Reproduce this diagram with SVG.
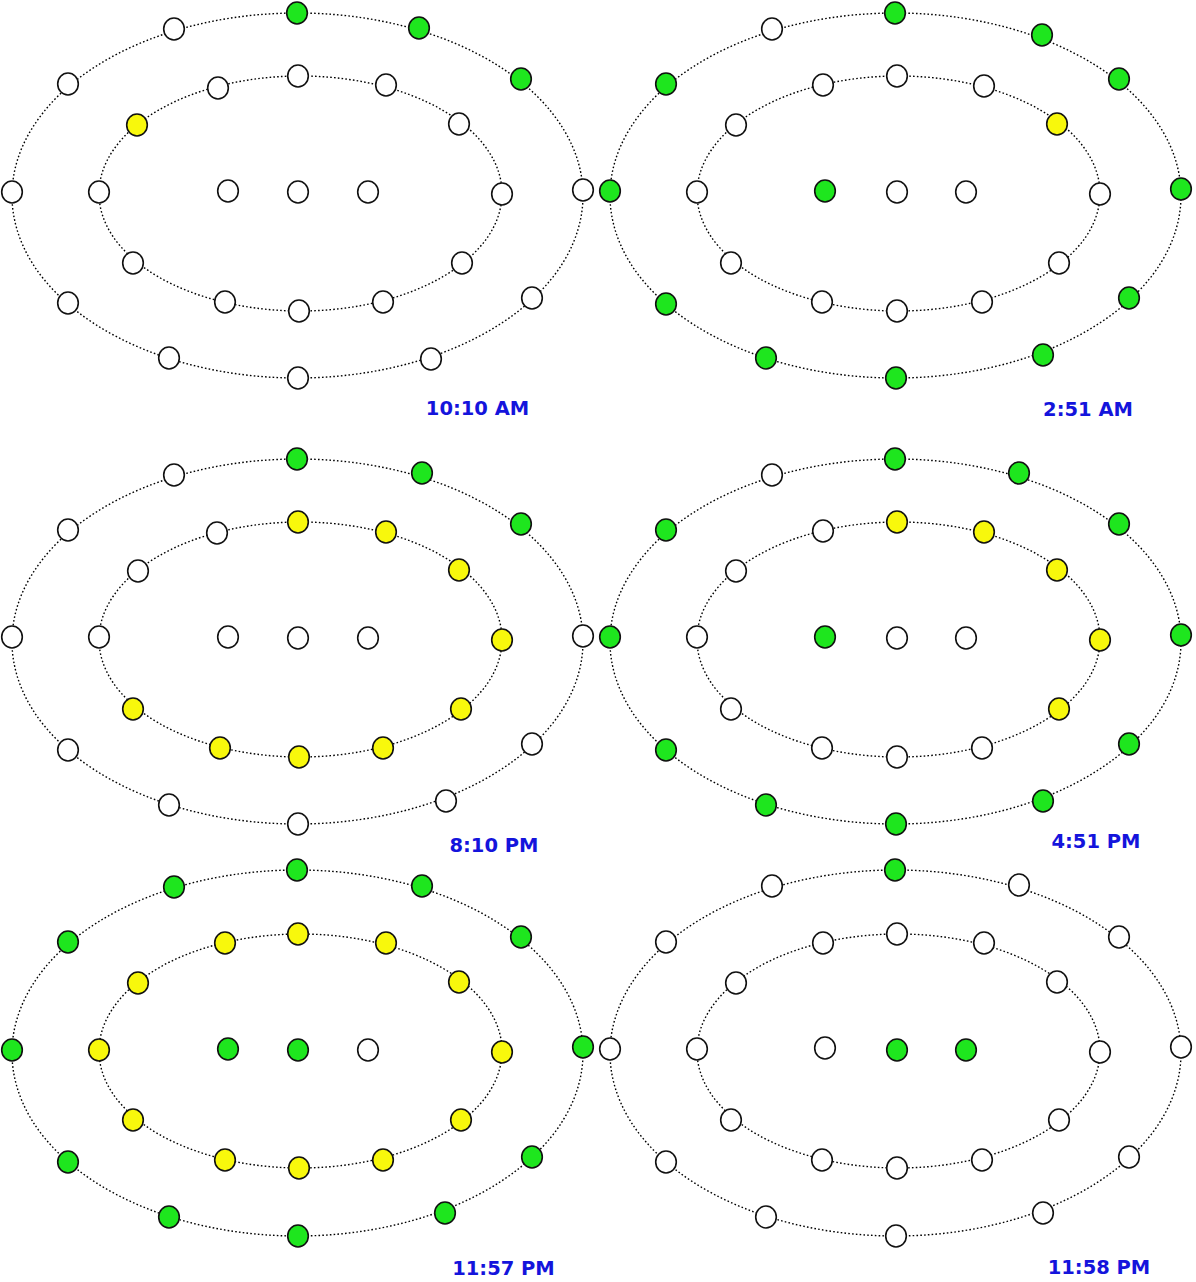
<svg xmlns="http://www.w3.org/2000/svg" width="1196" height="1282" viewBox="0 0 1196 1282">
<style>
.ring{fill:none;stroke:#000;stroke-width:1.4;stroke-dasharray:1.6 2.2}
.n ellipse{stroke:#111;stroke-width:1.6}
.w{fill:#fff}
.g{fill:#1ee61e}
.y{fill:#f8f80c}
.lbl{font-family:"DejaVu Sans",sans-serif;font-weight:bold;font-size:19.5px;fill:#1414dc;text-anchor:middle}
</style>
<defs>
<ellipse id="dot" rx="10.3" ry="11"/>
</defs>
<rect width="1196" height="1282" fill="#fff"/>
<g id="connectors">
<ellipse class="ring" cx="297.5" cy="195.5" rx="285.5" ry="182.5"/>
<ellipse class="ring" cx="300.5" cy="193.5" rx="201.5" ry="117.5"/>
<ellipse class="ring" cx="895.5" cy="195.5" rx="285.5" ry="182.5"/>
<ellipse class="ring" cx="898.5" cy="193.5" rx="201.5" ry="117.5"/>
<ellipse class="ring" cx="297.5" cy="641.5" rx="285.5" ry="182.5"/>
<ellipse class="ring" cx="300.5" cy="639.5" rx="201.5" ry="117.5"/>
<ellipse class="ring" cx="895.5" cy="641.5" rx="285.5" ry="182.5"/>
<ellipse class="ring" cx="898.5" cy="639.5" rx="201.5" ry="117.5"/>
<ellipse class="ring" cx="297.5" cy="1053" rx="285.5" ry="183"/>
<ellipse class="ring" cx="300.5" cy="1051" rx="201.5" ry="117"/>
<ellipse class="ring" cx="895.5" cy="1053" rx="285.5" ry="183"/>
<ellipse class="ring" cx="898.5" cy="1051" rx="201.5" ry="117"/>
</g>
<g id="panel1" class="n">
<g id="p1o12"><ellipse class="g" cx="297" cy="13" rx="10.3" ry="11"/></g>
<g id="p1o1"><ellipse class="g" cx="419" cy="28" rx="10.3" ry="11"/></g>
<g id="p1o2"><ellipse class="g" cx="521" cy="79" rx="10.3" ry="11"/></g>
<g id="p1o3"><ellipse class="w" cx="583" cy="190" rx="10.3" ry="11"/></g>
<g id="p1o4"><ellipse class="w" cx="532" cy="298" rx="10.3" ry="11"/></g>
<g id="p1o5"><ellipse class="w" cx="431" cy="359" rx="10.3" ry="11"/></g>
<g id="p1o6"><ellipse class="w" cx="298" cy="378" rx="10.3" ry="11"/></g>
<g id="p1o7"><ellipse class="w" cx="169" cy="358" rx="10.3" ry="11"/></g>
<g id="p1o8"><ellipse class="w" cx="68" cy="303" rx="10.3" ry="11"/></g>
<g id="p1o9"><ellipse class="w" cx="12" cy="192" rx="10.3" ry="11"/></g>
<g id="p1o10"><ellipse class="w" cx="68" cy="84" rx="10.3" ry="11"/></g>
<g id="p1o11"><ellipse class="w" cx="174" cy="29" rx="10.3" ry="11"/></g>
<g id="p1i12"><ellipse class="w" cx="298" cy="76" rx="10.3" ry="11"/></g>
<g id="p1i1"><ellipse class="w" cx="386" cy="85" rx="10.3" ry="11"/></g>
<g id="p1i2"><ellipse class="w" cx="459" cy="124" rx="10.3" ry="11"/></g>
<g id="p1i3"><ellipse class="w" cx="502" cy="194" rx="10.3" ry="11"/></g>
<g id="p1i4"><ellipse class="w" cx="462" cy="263" rx="10.3" ry="11"/></g>
<g id="p1i5"><ellipse class="w" cx="383" cy="302" rx="10.3" ry="11"/></g>
<g id="p1i6"><ellipse class="w" cx="299" cy="311" rx="10.3" ry="11"/></g>
<g id="p1i7"><ellipse class="w" cx="225" cy="302" rx="10.3" ry="11"/></g>
<g id="p1i8"><ellipse class="w" cx="133" cy="263" rx="10.3" ry="11"/></g>
<g id="p1i9"><ellipse class="w" cx="99" cy="192" rx="10.3" ry="11"/></g>
<g id="p1i10"><ellipse class="y" cx="137" cy="125" rx="10.3" ry="11"/></g>
<g id="p1i11"><ellipse class="w" cx="218" cy="88" rx="10.3" ry="11"/></g>
<g id="p1c1"><ellipse class="w" cx="228" cy="191" rx="10.3" ry="11"/></g>
<g id="p1c2"><ellipse class="w" cx="298" cy="192" rx="10.3" ry="11"/></g>
<g id="p1c3"><ellipse class="w" cx="368" cy="192" rx="10.3" ry="11"/></g>
<text id="p1lbl" class="lbl" x="477.5" y="415">10:10 AM</text>
</g>
<g id="panel2" class="n">
<g id="p2o12"><ellipse class="g" cx="895" cy="13" rx="10.3" ry="11"/></g>
<g id="p2o1"><ellipse class="g" cx="1042" cy="35" rx="10.3" ry="11"/></g>
<g id="p2o2"><ellipse class="g" cx="1119" cy="79" rx="10.3" ry="11"/></g>
<g id="p2o3"><ellipse class="g" cx="1181" cy="189" rx="10.3" ry="11"/></g>
<g id="p2o4"><ellipse class="g" cx="1129" cy="298" rx="10.3" ry="11"/></g>
<g id="p2o5"><ellipse class="g" cx="1043" cy="355" rx="10.3" ry="11"/></g>
<g id="p2o6"><ellipse class="g" cx="896" cy="378" rx="10.3" ry="11"/></g>
<g id="p2o7"><ellipse class="g" cx="766" cy="358" rx="10.3" ry="11"/></g>
<g id="p2o8"><ellipse class="g" cx="666" cy="304" rx="10.3" ry="11"/></g>
<g id="p2o9"><ellipse class="g" cx="610" cy="191" rx="10.3" ry="11"/></g>
<g id="p2o10"><ellipse class="g" cx="666" cy="84" rx="10.3" ry="11"/></g>
<g id="p2o11"><ellipse class="w" cx="772" cy="29" rx="10.3" ry="11"/></g>
<g id="p2i12"><ellipse class="w" cx="897" cy="76" rx="10.3" ry="11"/></g>
<g id="p2i1"><ellipse class="w" cx="984" cy="86" rx="10.3" ry="11"/></g>
<g id="p2i2"><ellipse class="y" cx="1057" cy="124" rx="10.3" ry="11"/></g>
<g id="p2i3"><ellipse class="w" cx="1100" cy="194" rx="10.3" ry="11"/></g>
<g id="p2i4"><ellipse class="w" cx="1059" cy="263" rx="10.3" ry="11"/></g>
<g id="p2i5"><ellipse class="w" cx="982" cy="302" rx="10.3" ry="11"/></g>
<g id="p2i6"><ellipse class="w" cx="897" cy="311" rx="10.3" ry="11"/></g>
<g id="p2i7"><ellipse class="w" cx="822" cy="302" rx="10.3" ry="11"/></g>
<g id="p2i8"><ellipse class="w" cx="731" cy="263" rx="10.3" ry="11"/></g>
<g id="p2i9"><ellipse class="w" cx="697" cy="192" rx="10.3" ry="11"/></g>
<g id="p2i10"><ellipse class="w" cx="736" cy="125" rx="10.3" ry="11"/></g>
<g id="p2i11"><ellipse class="w" cx="823" cy="85" rx="10.3" ry="11"/></g>
<g id="p2c1"><ellipse class="g" cx="825" cy="191" rx="10.3" ry="11"/></g>
<g id="p2c2"><ellipse class="w" cx="897" cy="192" rx="10.3" ry="11"/></g>
<g id="p2c3"><ellipse class="w" cx="966" cy="192" rx="10.3" ry="11"/></g>
<text id="p2lbl" class="lbl" x="1088" y="416">2:51 AM</text>
</g>
<g id="panel3" class="n">
<g id="p3o12"><ellipse class="g" cx="297" cy="459" rx="10.3" ry="11"/></g>
<g id="p3o1"><ellipse class="g" cx="422" cy="473" rx="10.3" ry="11"/></g>
<g id="p3o2"><ellipse class="g" cx="521" cy="524" rx="10.3" ry="11"/></g>
<g id="p3o3"><ellipse class="w" cx="583" cy="636" rx="10.3" ry="11"/></g>
<g id="p3o4"><ellipse class="w" cx="532" cy="744" rx="10.3" ry="11"/></g>
<g id="p3o5"><ellipse class="w" cx="446" cy="801" rx="10.3" ry="11"/></g>
<g id="p3o6"><ellipse class="w" cx="298" cy="824" rx="10.3" ry="11"/></g>
<g id="p3o7"><ellipse class="w" cx="169" cy="805" rx="10.3" ry="11"/></g>
<g id="p3o8"><ellipse class="w" cx="68" cy="750" rx="10.3" ry="11"/></g>
<g id="p3o9"><ellipse class="w" cx="12" cy="637" rx="10.3" ry="11"/></g>
<g id="p3o10"><ellipse class="w" cx="68" cy="530" rx="10.3" ry="11"/></g>
<g id="p3o11"><ellipse class="w" cx="174" cy="475" rx="10.3" ry="11"/></g>
<g id="p3i12"><ellipse class="y" cx="298" cy="522" rx="10.3" ry="11"/></g>
<g id="p3i1"><ellipse class="y" cx="386" cy="532" rx="10.3" ry="11"/></g>
<g id="p3i2"><ellipse class="y" cx="459" cy="570" rx="10.3" ry="11"/></g>
<g id="p3i3"><ellipse class="y" cx="502" cy="640" rx="10.3" ry="11"/></g>
<g id="p3i4"><ellipse class="y" cx="461" cy="709" rx="10.3" ry="11"/></g>
<g id="p3i5"><ellipse class="y" cx="383" cy="748" rx="10.3" ry="11"/></g>
<g id="p3i6"><ellipse class="y" cx="299" cy="757" rx="10.3" ry="11"/></g>
<g id="p3i7"><ellipse class="y" cx="220" cy="748" rx="10.3" ry="11"/></g>
<g id="p3i8"><ellipse class="y" cx="133" cy="709" rx="10.3" ry="11"/></g>
<g id="p3i9"><ellipse class="w" cx="99" cy="637" rx="10.3" ry="11"/></g>
<g id="p3i10"><ellipse class="w" cx="138" cy="571" rx="10.3" ry="11"/></g>
<g id="p3i11"><ellipse class="w" cx="217" cy="533" rx="10.3" ry="11"/></g>
<g id="p3c1"><ellipse class="w" cx="228" cy="637" rx="10.3" ry="11"/></g>
<g id="p3c2"><ellipse class="w" cx="298" cy="638" rx="10.3" ry="11"/></g>
<g id="p3c3"><ellipse class="w" cx="368" cy="638" rx="10.3" ry="11"/></g>
<text id="p3lbl" class="lbl" x="494" y="852">8:10 PM</text>
</g>
<g id="panel4" class="n">
<g id="p4o12"><ellipse class="g" cx="895" cy="459" rx="10.3" ry="11"/></g>
<g id="p4o1"><ellipse class="g" cx="1019" cy="473" rx="10.3" ry="11"/></g>
<g id="p4o2"><ellipse class="g" cx="1119" cy="524" rx="10.3" ry="11"/></g>
<g id="p4o3"><ellipse class="g" cx="1181" cy="635" rx="10.3" ry="11"/></g>
<g id="p4o4"><ellipse class="g" cx="1129" cy="744" rx="10.3" ry="11"/></g>
<g id="p4o5"><ellipse class="g" cx="1043" cy="801" rx="10.3" ry="11"/></g>
<g id="p4o6"><ellipse class="g" cx="896" cy="824" rx="10.3" ry="11"/></g>
<g id="p4o7"><ellipse class="g" cx="766" cy="805" rx="10.3" ry="11"/></g>
<g id="p4o8"><ellipse class="g" cx="666" cy="750" rx="10.3" ry="11"/></g>
<g id="p4o9"><ellipse class="g" cx="610" cy="637" rx="10.3" ry="11"/></g>
<g id="p4o10"><ellipse class="g" cx="666" cy="530" rx="10.3" ry="11"/></g>
<g id="p4o11"><ellipse class="w" cx="772" cy="475" rx="10.3" ry="11"/></g>
<g id="p4i12"><ellipse class="y" cx="897" cy="522" rx="10.3" ry="11"/></g>
<g id="p4i1"><ellipse class="y" cx="984" cy="532" rx="10.3" ry="11"/></g>
<g id="p4i2"><ellipse class="y" cx="1057" cy="570" rx="10.3" ry="11"/></g>
<g id="p4i3"><ellipse class="y" cx="1100" cy="640" rx="10.3" ry="11"/></g>
<g id="p4i4"><ellipse class="y" cx="1059" cy="709" rx="10.3" ry="11"/></g>
<g id="p4i5"><ellipse class="w" cx="982" cy="748" rx="10.3" ry="11"/></g>
<g id="p4i6"><ellipse class="w" cx="897" cy="757" rx="10.3" ry="11"/></g>
<g id="p4i7"><ellipse class="w" cx="822" cy="748" rx="10.3" ry="11"/></g>
<g id="p4i8"><ellipse class="w" cx="731" cy="709" rx="10.3" ry="11"/></g>
<g id="p4i9"><ellipse class="w" cx="697" cy="637" rx="10.3" ry="11"/></g>
<g id="p4i10"><ellipse class="w" cx="736" cy="571" rx="10.3" ry="11"/></g>
<g id="p4i11"><ellipse class="w" cx="823" cy="531" rx="10.3" ry="11"/></g>
<g id="p4c1"><ellipse class="g" cx="825" cy="637" rx="10.3" ry="11"/></g>
<g id="p4c2"><ellipse class="w" cx="897" cy="638" rx="10.3" ry="11"/></g>
<g id="p4c3"><ellipse class="w" cx="966" cy="638" rx="10.3" ry="11"/></g>
<text id="p4lbl" class="lbl" x="1096" y="848">4:51 PM</text>
</g>
<g id="panel5" class="n">
<g id="p5o12"><ellipse class="g" cx="297" cy="870" rx="10.3" ry="11"/></g>
<g id="p5o1"><ellipse class="g" cx="422" cy="886" rx="10.3" ry="11"/></g>
<g id="p5o2"><ellipse class="g" cx="521" cy="937" rx="10.3" ry="11"/></g>
<g id="p5o3"><ellipse class="g" cx="583" cy="1047" rx="10.3" ry="11"/></g>
<g id="p5o4"><ellipse class="g" cx="532" cy="1157" rx="10.3" ry="11"/></g>
<g id="p5o5"><ellipse class="g" cx="445" cy="1213" rx="10.3" ry="11"/></g>
<g id="p5o6"><ellipse class="g" cx="298" cy="1236" rx="10.3" ry="11"/></g>
<g id="p5o7"><ellipse class="g" cx="169" cy="1217" rx="10.3" ry="11"/></g>
<g id="p5o8"><ellipse class="g" cx="68" cy="1162" rx="10.3" ry="11"/></g>
<g id="p5o9"><ellipse class="g" cx="12" cy="1050" rx="10.3" ry="11"/></g>
<g id="p5o10"><ellipse class="g" cx="68" cy="942" rx="10.3" ry="11"/></g>
<g id="p5o11"><ellipse class="g" cx="174" cy="887" rx="10.3" ry="11"/></g>
<g id="p5i12"><ellipse class="y" cx="298" cy="934" rx="10.3" ry="11"/></g>
<g id="p5i1"><ellipse class="y" cx="386" cy="943" rx="10.3" ry="11"/></g>
<g id="p5i2"><ellipse class="y" cx="459" cy="982" rx="10.3" ry="11"/></g>
<g id="p5i3"><ellipse class="y" cx="502" cy="1052" rx="10.3" ry="11"/></g>
<g id="p5i4"><ellipse class="y" cx="461" cy="1120" rx="10.3" ry="11"/></g>
<g id="p5i5"><ellipse class="y" cx="383" cy="1160" rx="10.3" ry="11"/></g>
<g id="p5i6"><ellipse class="y" cx="299" cy="1168" rx="10.3" ry="11"/></g>
<g id="p5i7"><ellipse class="y" cx="225" cy="1160" rx="10.3" ry="11"/></g>
<g id="p5i8"><ellipse class="y" cx="133" cy="1120" rx="10.3" ry="11"/></g>
<g id="p5i9"><ellipse class="y" cx="99" cy="1050" rx="10.3" ry="11"/></g>
<g id="p5i10"><ellipse class="y" cx="138" cy="983" rx="10.3" ry="11"/></g>
<g id="p5i11"><ellipse class="y" cx="225" cy="943" rx="10.3" ry="11"/></g>
<g id="p5c1"><ellipse class="g" cx="228" cy="1049" rx="10.3" ry="11"/></g>
<g id="p5c2"><ellipse class="g" cx="298" cy="1050" rx="10.3" ry="11"/></g>
<g id="p5c3"><ellipse class="w" cx="368" cy="1050" rx="10.3" ry="11"/></g>
<text id="p5lbl" class="lbl" x="503.5" y="1275">11:57 PM</text>
</g>
<g id="panel6" class="n">
<g id="p6o12"><ellipse class="g" cx="895" cy="870" rx="10.3" ry="11"/></g>
<g id="p6o1"><ellipse class="w" cx="1019" cy="885" rx="10.3" ry="11"/></g>
<g id="p6o2"><ellipse class="w" cx="1119" cy="937" rx="10.3" ry="11"/></g>
<g id="p6o3"><ellipse class="w" cx="1181" cy="1047" rx="10.3" ry="11"/></g>
<g id="p6o4"><ellipse class="w" cx="1129" cy="1157" rx="10.3" ry="11"/></g>
<g id="p6o5"><ellipse class="w" cx="1043" cy="1213" rx="10.3" ry="11"/></g>
<g id="p6o6"><ellipse class="w" cx="896" cy="1236" rx="10.3" ry="11"/></g>
<g id="p6o7"><ellipse class="w" cx="766" cy="1217" rx="10.3" ry="11"/></g>
<g id="p6o8"><ellipse class="w" cx="666" cy="1162" rx="10.3" ry="11"/></g>
<g id="p6o9"><ellipse class="w" cx="610" cy="1049" rx="10.3" ry="11"/></g>
<g id="p6o10"><ellipse class="w" cx="666" cy="942" rx="10.3" ry="11"/></g>
<g id="p6o11"><ellipse class="w" cx="772" cy="886" rx="10.3" ry="11"/></g>
<g id="p6i12"><ellipse class="w" cx="897" cy="934" rx="10.3" ry="11"/></g>
<g id="p6i1"><ellipse class="w" cx="984" cy="943" rx="10.3" ry="11"/></g>
<g id="p6i2"><ellipse class="w" cx="1057" cy="982" rx="10.3" ry="11"/></g>
<g id="p6i3"><ellipse class="w" cx="1100" cy="1052" rx="10.3" ry="11"/></g>
<g id="p6i4"><ellipse class="w" cx="1059" cy="1120" rx="10.3" ry="11"/></g>
<g id="p6i5"><ellipse class="w" cx="982" cy="1160" rx="10.3" ry="11"/></g>
<g id="p6i6"><ellipse class="w" cx="897" cy="1168" rx="10.3" ry="11"/></g>
<g id="p6i7"><ellipse class="w" cx="822" cy="1160" rx="10.3" ry="11"/></g>
<g id="p6i8"><ellipse class="w" cx="731" cy="1120" rx="10.3" ry="11"/></g>
<g id="p6i9"><ellipse class="w" cx="697" cy="1049" rx="10.3" ry="11"/></g>
<g id="p6i10"><ellipse class="w" cx="736" cy="983" rx="10.3" ry="11"/></g>
<g id="p6i11"><ellipse class="w" cx="823" cy="943" rx="10.3" ry="11"/></g>
<g id="p6c1"><ellipse class="w" cx="825" cy="1048" rx="10.3" ry="11"/></g>
<g id="p6c2"><ellipse class="g" cx="897" cy="1050" rx="10.3" ry="11"/></g>
<g id="p6c3"><ellipse class="g" cx="966" cy="1050" rx="10.3" ry="11"/></g>
<text id="p6lbl" class="lbl" x="1099" y="1274">11:58 PM</text>
</g>
</svg>
